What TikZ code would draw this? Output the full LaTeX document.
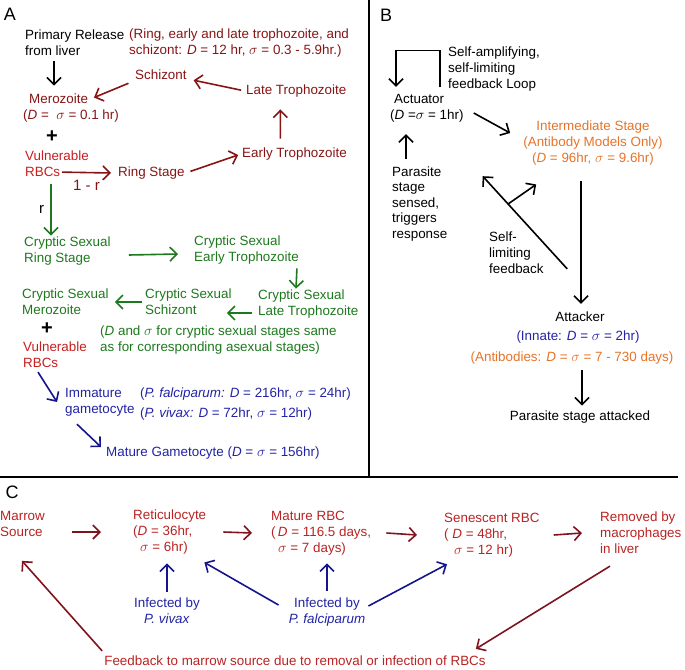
\documentclass[tikz,border=0pt]{standalone}
\usepackage{fontspec}
\setmainfont{Liberation Sans}
\usepackage{xcolor}
\usetikzlibrary{arrows.meta,positioning,calc}

\definecolor{asexred}{RGB}{135,20,20}
\definecolor{rbcred}{RGB}{200,30,30}
\definecolor{sexgreen}{RGB}{30,120,30}
\definecolor{gamblue}{RGB}{35,35,165}
\definecolor{arrblue}{RGB}{20,20,140}
\definecolor{aborange}{RGB}{230,115,40}
\definecolor{cred}{RGB}{185,35,35}
\definecolor{carrow}{RGB}{125,20,30}

\begin{document}
\begin{tikzpicture}[x=1pt,y=-1pt,
    every node/.style={font=\fontsize{13.4}{16}\selectfont, inner sep=1pt, align=left},
    lbl/.style={anchor=west},
    panellbl/.style={font=\fontsize{18}{20}\selectfont},
    plussign/.style={font=\fontsize{20}{20}\selectfont\bfseries},
    arr/.style={-{Straight Barb[length=7pt,width=14pt]}, line width=1.6pt},
    aarr/.style={arr, asexred},
    garr/.style={arr, sexgreen},
    barr/.style={arr, arrblue},
    carr/.style={arr, carrow}]
    \useasboundingbox (0,0) rectangle (685,669);

    % panel A
    \node[panellbl] (labA) at (10,14) {A};
    \node[lbl] (release) at (24,43) {Primary Release\\from liver};
    \node[lbl,asexred] (asexnote) at (128,43) {(Ring, early and late trophozoite, and\\schizont: \textit{D} = 12 hr, $\sigma$ = 0.3 - 5.9hr.)};
    \node[lbl,asexred] (mero) at (22,108) {\hspace*{6pt}Merozoite\\(\textit{D} = \ $\sigma$ = 0.1 hr)};
    \node[plussign] (plus1) at (52,137) {+};
    \node[lbl,rbcred] (rbc1) at (24,164) {Vulnerable\\RBCs};
    \node[lbl,asexred] (ring) at (117,173) {Ring Stage};
    \node[lbl,asexred] (early) at (241,154) {Early Trophozoite};
    \node[lbl,asexred] (late) at (245,91) {Late Trophozoite};
    \node[lbl,asexred] (schiz) at (134,75) {Schizont};

    \node[lbl,sexgreen] (csring) at (23,251) {Cryptic Sexual\\Ring Stage};
    \node[lbl,sexgreen] (csearly) at (193,250) {Cryptic Sexual\\Early Trophozoite};
    \node[lbl,sexgreen] (cslate) at (257,304) {Cryptic Sexual\\Late Trophozoite};
    \node[lbl,sexgreen] (csschiz) at (144,302) {Cryptic Sexual\\Schizont};
    \node[lbl,sexgreen] (csmero) at (21,302) {Cryptic Sexual\\Merozoite};
    \node[plussign] (plus2) at (47,329) {+};
    \node[lbl,sexgreen] (csnote) at (99,340) {(\textit{D} and $\sigma$ for cryptic sexual stages same\\as for corresponding asexual stages)};
    \node[lbl,rbcred] (rbc2) at (22,355) {Vulnerable\\RBCs};
    \node[lbl,gamblue] (immat) at (64,402) {Immature\\gametocyte};
    \node[lbl,gamblue] (pfal) at (139,394) {(\textit{P. falciparum:} \textit{D} = 216hr, $\sigma$ = 24hr)};
    \node[lbl,gamblue] (pviv) at (139,414) {(\textit{P. vivax:} \textit{D} = 72hr, $\sigma$ = 12hr)};
    \node[lbl,gamblue] (matgam) at (105,453) {Mature Gametocyte (\textit{D} = $\sigma$ = 156hr)};

    \draw[arr] ([xshift=30pt,yshift=-4pt]release.south west) -- ([xshift=32pt,yshift=7pt]mero.north west);
    \draw[aarr] ([xshift=38pt,yshift=6pt]rbc1.south west) -- ([xshift=-6pt]ring.west)
        node[midway,below=6pt,font=\fontsize{15}{16}\selectfont] {1 - r};
    \draw[aarr, shorten <=5pt, shorten >=3pt] (ring.east) -- (early.west);
    \draw[aarr, shorten <=8pt, shorten >=11pt] ([xshift=-14pt]early.north) -- ([xshift=-16pt]late.south);
    \draw[aarr, shorten <=4pt, shorten >=6pt] (late.west) -- ([yshift=-4pt]schiz.east);
    \draw[aarr, shorten <=6pt] ([yshift=-6pt]schiz.west) -- ([xshift=72pt,yshift=-5pt]mero.north west);

    \draw[garr] ([xshift=27pt,yshift=-6pt]rbc1.south west) -- ([xshift=28pt]csring.north west)
        node[midway,left=5pt,black,font=\fontsize{15}{16}\selectfont] {r};
    \draw[garr] ([xshift=17pt,yshift=-4pt]csring.east) -- ([xshift=-15pt,yshift=-4pt]csearly.west);
    \draw[garr] ([xshift=-3pt,yshift=-3pt]csearly.south east) -- ([xshift=39pt]cslate.north west);
    \draw[garr, shorten <=5pt] ([yshift=-9pt]cslate.west) -- ([xshift=-6pt,yshift=-11pt]csschiz.east);
    \draw[garr, shorten <=2pt] (csschiz.west) -- ([xshift=5pt]csmero.east);

    \draw[barr] ([xshift=16pt,yshift=-3pt]rbc2.south west) -- ([xshift=-7pt]immat.west);
    \draw[barr] ([xshift=13pt,yshift=-7pt]immat.south west) -- ([xshift=-4pt,yshift=6pt]matgam.west);

    \draw[line width=1.6pt] (369,0) -- (369,477);
    \draw[line width=1.6pt] (0,477) -- (678,477);

    % panel B
    \node[panellbl] (labB) at (386,15) {B};
    \node[lbl] (loop) at (447,69) {Self-amplifying,\\self-limiting\\feedback Loop};
    \node[lbl] (act) at (389,108) {\hspace*{4pt}Actuator\\(\textit{D} =$\sigma$ = 1hr)};
    \node[aborange,align=center] (inter) at (593,143) {Intermediate Stage\\(Antibody Models Only)\\(\textit{D} = 96hr, $\sigma$ = 9.6hr)};
    \node[lbl,font=\fontsize{13.4}{15.5}\selectfont] (parasite) at (391,204) {Parasite\\stage\\sensed,\\triggers\\response};
    \node[lbl] (selflim) at (488,253) {Self-\\limiting\\feedback};
    \node (attacker) at (580,317) {Attacker};
    \node[gamblue] (innate) at (578,337) {(Innate: \textit{D} = $\sigma$ = 2hr)};
    \node[aborange] (antib) at (572,358) {(Antibodies: \textit{D} = $\sigma$ = 7 - 730 days)};
    \node (attacked) at (580,417) {Parasite stage attacked};

    \draw[arr] ([xshift=-7pt,yshift=5pt]loop.south west) -- ++(0,-37) -| ([xshift=7pt,yshift=6pt]act.north west);
    \draw[arr] ([xshift=9pt,yshift=-5pt]act.east) -- ([xshift=-12pt,yshift=10pt]inter.west);
    \draw[arr] ([xshift=15pt,yshift=7pt]parasite.north west) -- ([xshift=17pt,yshift=-11pt]act.south west);
    \draw[arr] ([xshift=-12pt,yshift=-15pt]inter.south) -- ([xshift=1pt,yshift=7pt]attacker.north);
    \draw[arr] ([xshift=13pt,yshift=42pt]attacker.north west) -- coordinate[pos=0.7] (fb) ([xshift=18pt,yshift=-53pt]act.south east);
    \draw[arr] (fb) -- ([xshift=14pt,yshift=-18pt]inter.south west);
    \draw[arr, shorten <=5pt, shorten >=4pt] ([xshift=10pt]antib.south) -- ([xshift=2pt]attacked.north);

    % panel C
    \node[panellbl] (labC) at (12,492) {C};
    \node[lbl,cred] (marrow) at (-1,524) {Marrow\\Source};
    \node[lbl,cred] (retic) at (132,532) {Reticulocyte\\(\textit{D} = 36hr,\\\hspace*{7pt}$\sigma$ = 6hr)};
    \node[lbl,cred] (mature) at (270,533) {Mature RBC\\(\,\textit{D} = 116.5 days,\\\hspace*{7pt}$\sigma$ = 7 days)};
    \node[lbl,cred] (senesc) at (443,535) {Senescent RBC\\( \textit{D} = 48hr,\\\hspace*{10pt}$\sigma$ = 12 hr)};
    \node[lbl,cred] (removed) at (599,533) {Removed by\\macrophages\\in liver};
    \node[gamblue,align=center] (vivax) at (167,611) {Infected by\\\textit{P. vivax}};
    \node[gamblue,align=center] (falc) at (327,612) {Infected by\\\textit{P. falciparum}};
    \node[cred] (feedback) at (295,661) {Feedback to marrow source due to removal or infection of RBCs};

    \draw[carr] ([xshift=26pt,yshift=-8pt]marrow.east) -- ([xshift=-31pt]retic.west);
    \draw[carr] ([xshift=16pt]retic.east) -- ([xshift=-18pt]mature.west);
    \draw[carr] ([xshift=14pt]mature.east) -- ([xshift=-26pt]senesc.west);
    \draw[carr] ([xshift=13pt]senesc.east) -- ([xshift=-17pt]removed.west);
    \draw[carr] ([xshift=11pt,yshift=-11pt]removed.south west) -- ([xshift=-11pt,yshift=6pt]feedback.north east);
    \draw[carr] ([xshift=-1pt,yshift=4pt]feedback.north west) -- ([xshift=23pt,yshift=-23pt]marrow.south west);

    \draw[barr, shorten <=5pt, shorten >=8pt] (vivax.north) -- (vivax.north |- retic.south);
    \draw[barr, shorten <=6pt, shorten >=7pt] (falc.north) -- (falc.north |- mature.south);
    \draw[barr] ([xshift=-9pt,yshift=7pt]falc.west) -- ([xshift=-3pt,yshift=-7pt]retic.south east);
    \draw[barr] ([xshift=2pt,yshift=6pt]falc.east) -- ([xshift=4pt,yshift=-6pt]senesc.south west);
\end{tikzpicture}
\end{document}
